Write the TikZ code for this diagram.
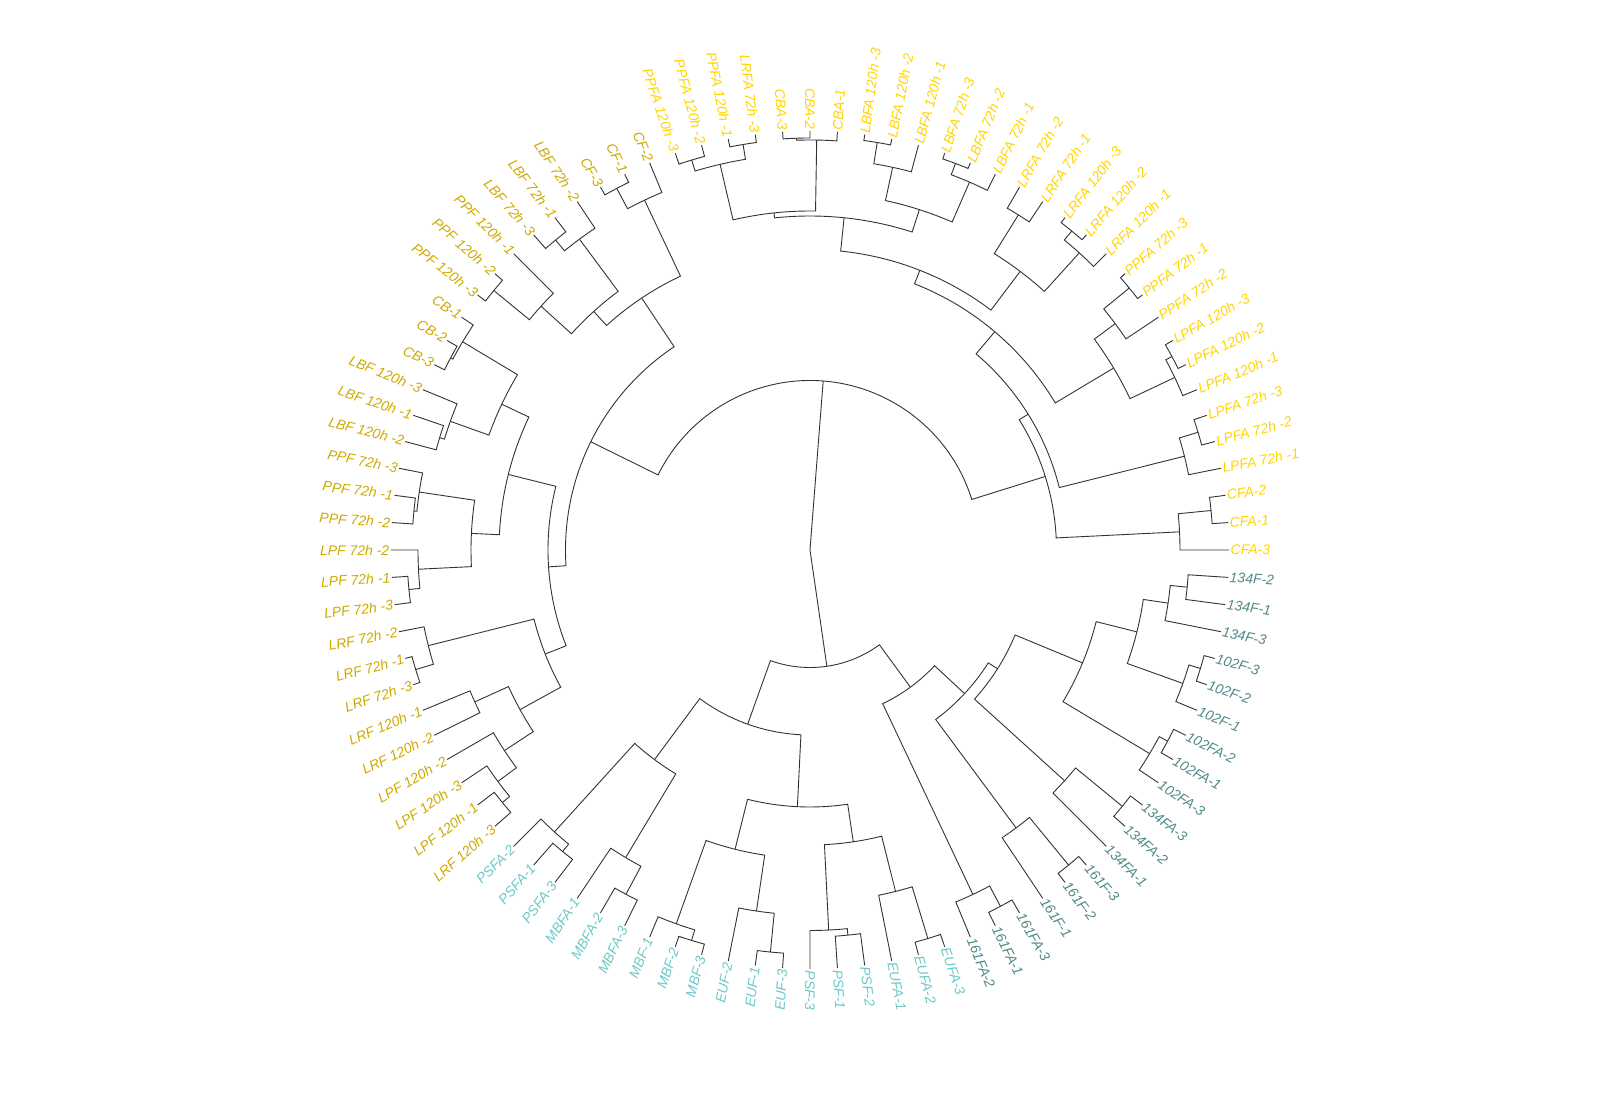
\documentclass[tikz,border=0pt]{standalone}
\usepackage{fontspec}
\setmainfont{Liberation Sans}
\usepackage{tikz}
\definecolor{fagold}{RGB}{255,213,0}
\definecolor{fgold}{RGB}{205,170,0}
\definecolor{fcyan}{RGB}{108,200,200}
\definecolor{fteal}{RGB}{80,136,136}

% radius of the tips (pt = px of the picture)
\newcommand{\tipr}{419}

% tip: index, name, label, colour
\newcommand{\mktip}[4]{%
  \pgfmathsetmacro\angT{#1*3.75}%
  \expandafter\xdef\csname a@#2\endcsname{\angT}%
  \expandafter\xdef\csname r@#2\endcsname{\tipr}%
  \ifdim\angT pt<90pt
    \node[tiplab=#4, anchor=west, rotate=\angT] (#2) at (\angT:\tipr pt) {#3};%
  \else\ifdim\angT pt<270pt
    \pgfmathsetmacro\rotT{\angT-180}%
    \node[tiplab=#4, anchor=east, rotate=\rotT] (#2) at (\angT:\tipr pt) {#3};%
  \else
    \node[tiplab=#4, anchor=west, rotate=\angT] (#2) at (\angT:\tipr pt) {#3};%
  \fi\fi
}

% inner node: name, child 1, child 2, radius
\newcommand{\brnode}[4]{%
  \pgfmathsetmacro\angA{\csname a@#2\endcsname}%
  \pgfmathsetmacro\angB{\csname a@#3\endcsname}%
  \pgfmathsetmacro\radA{\csname r@#2\endcsname}%
  \pgfmathsetmacro\radB{\csname r@#3\endcsname}%
  \pgfmathsetmacro\angM{(\angA+\angB)/2}%
  \expandafter\xdef\csname a@#1\endcsname{\angM}%
  \expandafter\xdef\csname r@#1\endcsname{#4}%
  \coordinate (#1) at (\angM:#4pt);%
  \draw[branch] (\angA:\radA pt) -- (\angA:#4pt)
    arc[start angle=\angA, end angle=\angB, radius=#4pt] -- (\angB:\radB pt);%
}

\begin{document}
\begin{tikzpicture}[
    branch/.style={draw=black!80, line width=0.9pt, line join=miter},
    tiplab/.style={text=#1, font=\itshape\fontsize{14}{16}\selectfont, inner sep=1.5pt}]
\useasboundingbox (-810pt,-550pt) rectangle (810pt,550pt);

% Tips (counter-clockwise from CFA-3)
\foreach \k/\nm/\txt/\col in {
  0/cfa3/CFA-3/fagold, 1/cfa1/CFA-1/fagold, 2/cfa2/CFA-2/fagold,
  3/lpfa72h1/LPFA 72h -1/fagold, 4/lpfa72h2/LPFA 72h -2/fagold, 5/lpfa72h3/LPFA 72h -3/fagold,
  6/lpfa120h1/LPFA 120h -1/fagold, 7/lpfa120h2/LPFA 120h -2/fagold, 8/lpfa120h3/LPFA 120h -3/fagold,
  9/ppfa72h2/PPFA 72h -2/fagold, 10/ppfa72h1/PPFA 72h -1/fagold, 11/ppfa72h3/PPFA 72h -3/fagold,
  12/lrfa120h1/LRFA 120h -1/fagold, 13/lrfa120h2/LRFA 120h -2/fagold, 14/lrfa120h3/LRFA 120h -3/fagold,
  15/lrfa72h1/LRFA 72h -1/fagold, 16/lrfa72h2/LRFA 72h -2/fagold,
  17/lbfa72h1/LBFA 72h -1/fagold, 18/lbfa72h2/LBFA 72h -2/fagold, 19/lbfa72h3/LBFA 72h -3/fagold,
  20/lbfa120h1/LBFA 120h -1/fagold, 21/lbfa120h2/LBFA 120h -2/fagold, 22/lbfa120h3/LBFA 120h -3/fagold,
  23/cba1/CBA-1/fagold, 24/cba2/CBA-2/fagold, 25/cba3/CBA-3/fagold,
  26/lrfa72h3/LRFA 72h -3/fagold,
  27/ppfa120h1/PPFA 120h -1/fagold, 28/ppfa120h2/PPFA 120h -2/fagold, 29/ppfa120h3/PPFA 120h -3/fagold,
  30/cf2/CF-2/fgold, 31/cf1/CF-1/fgold, 32/cf3/CF-3/fgold,
  33/lbf72h2/LBF 72h -2/fgold, 34/lbf72h1/LBF 72h -1/fgold, 35/lbf72h3/LBF 72h -3/fgold,
  36/ppf120h1/PPF 120h -1/fgold, 37/ppf120h2/PPF 120h -2/fgold, 38/ppf120h3/PPF 120h -3/fgold,
  39/cb1/CB-1/fgold, 40/cb2/CB-2/fgold, 41/cb3/CB-3/fgold,
  42/lbf120h3/LBF 120h -3/fgold, 43/lbf120h1/LBF 120h -1/fgold, 44/lbf120h2/LBF 120h -2/fgold,
  45/ppf72h3/PPF 72h -3/fgold, 46/ppf72h1/PPF 72h -1/fgold, 47/ppf72h2/PPF 72h -2/fgold,
  48/lpf72h2/LPF 72h -2/fgold, 49/lpf72h1/LPF 72h -1/fgold, 50/lpf72h3/LPF 72h -3/fgold,
  51/lrf72h2/LRF 72h -2/fgold, 52/lrf72h1/LRF 72h -1/fgold, 53/lrf72h3/LRF 72h -3/fgold,
  54/lrf120h1/LRF 120h -1/fgold, 55/lrf120h2/LRF 120h -2/fgold,
  56/lpf120h2/LPF 120h -2/fgold, 57/lpf120h3/LPF 120h -3/fgold, 58/lpf120h1/LPF 120h -1/fgold,
  59/lrf120h3/LRF 120h -3/fgold,
  60/psfa2/PSFA-2/fcyan, 61/psfa1/PSFA-1/fcyan, 62/psfa3/PSFA-3/fcyan,
  63/mbfa1/MBFA-1/fcyan, 64/mbfa2/MBFA-2/fcyan, 65/mbfa3/MBFA-3/fcyan,
  66/mbf1/MBF-1/fcyan, 67/mbf2/MBF-2/fcyan, 68/mbf3/MBF-3/fcyan,
  69/euf2/EUF-2/fcyan, 70/euf1/EUF-1/fcyan, 71/euf3/EUF-3/fcyan,
  72/psf3/PSF-3/fcyan, 73/psf1/PSF-1/fcyan, 74/psf2/PSF-2/fcyan,
  75/eufa1/EUFA-1/fcyan, 76/eufa2/EUFA-2/fcyan, 77/eufa3/EUFA-3/fcyan,
  78/s161fa2/161FA-2/fteal, 79/s161fa1/161FA-1/fteal, 80/s161fa3/161FA-3/fteal,
  81/s161f1/161F-1/fteal, 82/s161f2/161F-2/fteal, 83/s161f3/161F-3/fteal,
  84/s134fa1/134FA-1/fteal, 85/s134fa2/134FA-2/fteal, 86/s134fa3/134FA-3/fteal,
  87/s102fa3/102FA-3/fteal, 88/s102fa1/102FA-1/fteal, 89/s102fa2/102FA-2/fteal,
  90/s102f1/102F-1/fteal, 91/s102f2/102F-2/fteal, 92/s102f3/102F-3/fteal,
  93/s134f3/134F-3/fteal, 94/s134f1/134F-1/fteal, 95/s134f2/134F-2/fteal}
  {\mktip{\k}{\nm}{\txt}{\col}}

% Yellow clade
\foreach \nm/\ca/\cb/\rr in {
  cfaB/cfa1/cfa2/403, cfaA/cfa3/cfaB/370,
  lpfa72B/lpfa72h2/lpfa72h3/405.5, lpfa72A/lpfa72h1/lpfa72B/386,
  lpfa120B/lpfa120h2/lpfa120h3/410.4, lpfa120A/lpfa120h1/lpfa120B/403.5,
  ppfa72B/ppfa72h1/ppfa72h3/413, ppfa72A/ppfa72h2/ppfa72B/380,
  yR/lpfa120A/ppfa72A/354,
  lrfa120B/lrfa120h2/lrfa120h3/412.6, lrfa120A/lrfa120h1/lrfa120B/401,
  lrfa72A/lrfa72h1/lrfa72h2/394.6, yL/lrfa120A/lrfa72A/349,
  lbfa72B/lbfa72h2/lbfa72h3/413, lbfa72A/lbfa72h1/lbfa72B/401,
  lbfa120B/lbfa120h2/lbfa120h3/413, lbfa120A/lbfa120h1/lbfa120B/391.5,
  yH/lbfa72A/lbfa120A/357.5,
  cbaB/cba2/cba3/412, cbaA/cba1/cbaB/410,
  ppfa120B/ppfa120h2/ppfa120h3/407.5, ppfa120A/lrfa72h3/ppfa120h1/411,
  yG/ppfa120A/ppfa120B/396,
  yQa/cbaA/yG/339, yQb/yH/yQa/334, yQc/yL/yQb/300.5, yQd/yR/yQc/286,
  yPa/lpfa72A/yQd/257, yPb/cfaA/yPa/246.5}
  {\brnode{\nm}{\ca}{\cb}{\rr}}

% Gold clade
\foreach \nm/\ca/\cb/\rr in {
  cfB/cf1/cf3/410, cfA/cf2/cfB/387,
  lbf72B/lbf72h1/lbf72h3/401, lbf72A/lbf72h2/lbf72B/387,
  ppf120B/ppf120h2/ppf120h3/409, ppf120A/ppf120h1/ppf120B/363,
  gM/lbf72A/ppf120A/322, gN/cfA/gM/303,
  cbB/cb2/cb3/407.5, cbA/cb1/cbB/405,
  lbf120B/lbf120h1/lbf120h2/387, lbf120A/lbf120h3/lbf120B/382,
  gS/cbA/lbf120A/341,
  ppf72B/ppf72h1/ppf72h2/398, ppf72A/ppf72h3/ppf72B/395,
  lpf72B/lpf72h1/lpf72h3/403, lpf72A/lpf72h2/lpf72B/392,
  gT/ppf72A/lpf72A/339, gU/gS/gT/311,
  lrf72B/lrf72h1/lrf72h3/412, lrf72A/lrf72h2/lrf72B/393.5,
  lrf120A/lrf120h1/lrf120h2/368,
  lpf120C/lpf120h1/lrf120h3/398, lpf120B/lpf120h3/lpf120C/388.6,
  lpf120A/lpf120h2/lpf120B/365.5,
  gX/lrf120A/lpf120A/331, gK/lrf72A/gX/284.5,
  gV/gU/gK/262, gW/gN/gV/244.5,
  yA/yPb/gW/169.5}
  {\brnode{\nm}{\ca}{\cb}{\rr}}

% Teal clade
\foreach \nm/\ca/\cb/\rr in {
  psfaB/psfa1/psfa3/390, psfaA/psfa2/psfaB/380.5,
  mbfaB/mbfa2/mbfa3/390.4, mbfaA/mbfa1/mbfaB/358.6,
  cZ/psfaA/mbfaA/261,
  mbfB/mbf2/mbf3/408, mbfA/mbf1/mbfB/397,
  eufB/euf1/euf3/404, eufA/euf2/eufB/365, cMB/mbfA/eufA/308.5,
  psfB/psf1/psf2/387, psfA/psf3/psfB/380.5,
  eufaB/eufa2/eufa3/406, eufaA/eufa1/eufaB/352, cPS/psfA/eufaA/295,
  cY/cMB/cPS/257, cB/cZ/cY/185,
  fa161B/s161fa1/s161fa3/404, fa161A/s161fa2/fa161B/381,
  f161B/s161f2/s161f3/407.6, f161A/s161f1/f161B/346,
  fa134B/s134fa2/s134fa3/404, fa134A/s134fa1/fa134B/343.6,
  fa102B/s102fa1/s102fa2/405.5, fa102A/s102fa3/fa102B/396,
  f102B/s102f2/s102f3/408, f102A/s102f1/f102B/396,
  f134B/s134f1/s134f2/379, f134A/s134f3/f134B/362,
  tE/f102A/f134A/337, tD/fa102A/tE/295, tC/fa134A/tD/222,
  tBb/f161A/tC/211, tBa/fa161A/tBb/170,
  tB/cB/tBa/117.5}
  {\brnode{\nm}{\ca}{\cb}{\rr}}

% Root
\coordinate (root) at (0,0);
\draw[branch] (yA) -- (root) -- (tB);
\end{tikzpicture}
\end{document}
